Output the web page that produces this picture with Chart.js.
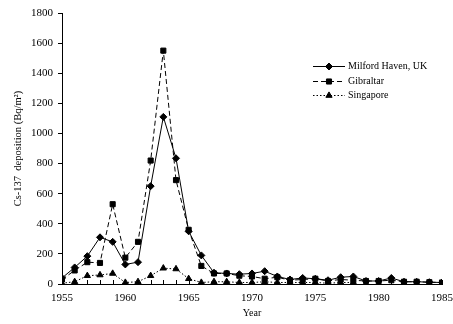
<!DOCTYPE html>
<html>
<head>
<meta charset="utf-8">
<script src="https://cdn.jsdelivr.net/npm/chart.js@4/dist/chart.umd.min.js"></script>
<style>
  html, body { margin: 0; padding: 0; background: #fff; }
  #wrap { width: 453px; height: 324px; position: relative; }
</style>
</head>
<body>
<div id="wrap"><canvas id="c"></canvas></div>
<script>
// Annual Cs-137 deposition, Bq/m²
const years = [1955,1956,1957,1958,1959,1960,1961,1962,1963,1964,1965,1966,1967,1968,1969,1970,
               1971,1972,1973,1974,1975,1976,1977,1978,1979,1980,1981,1982,1983,1984,1985];
const milfordHaven = [40,110,185,310,280,130,145,650,1110,835,350,190,75,70,65,70,
                      85,50,30,40,35,25,45,50,20,20,40,15,15,12,10];
const gibraltar = [30,90,145,140,530,175,280,820,1550,690,360,120,70,70,55,50,
                   35,45,25,30,35,20,30,25,20,20,25,15,15,12,10];
const singapore = [5,15,55,60,70,10,15,55,105,100,35,10,15,15,10,10,
                   15,10,10,10,10,5,10,10];
const yTicks = [0,200,400,600,800,1000,1200,1400,1600,1800];
const xLabelYears = [1955,1960,1965,1970,1975,1980,1985];

const FONT = '"Liberation Serif", "DejaVu Serif", serif';

function pts(vals) { return vals.map((v, i) => ({ x: years[i], y: v })); }

const seriesStyle = [
  { label: 'Milford Haven, UK', data: milfordHaven, dash: [], point: 'rectRot', r: 3.5 },
  { label: 'Gibraltar', data: gibraltar, dash: [5, 3], point: 'rect', r: 3.6 },
  { label: 'Singapore', data: singapore, dash: [1.5, 2], point: 'triangle', r: 3.6 }
];

// Inward tick marks on the year axis, one per year
const yearTicks = {
  id: 'yearTicks',
  afterDraw(chart) {
    const x = chart.scales.x, ctx = chart.ctx;
    const yb = chart.chartArea.bottom;
    ctx.save();
    ctx.strokeStyle = '#000';
    ctx.lineWidth = 1;
    for (let yr = 1955; yr <= 1985; yr++) {
      const px = Math.round(x.getPixelForValue(yr)) + 0.5;
      ctx.beginPath();
      ctx.moveTo(px, yb);
      ctx.lineTo(px, yb - 4);
      ctx.stroke();
    }
    ctx.restore();
  }
};

// Legend with line sample and marker, placed inside the plot
const insideLegend = {
  id: 'insideLegend',
  afterDraw(chart) {
    const ctx = chart.ctx;
    const x0 = 313, x1 = 345, tx = 348;
    const rows = [66, 81, 95];
    ctx.save();
    chart.data.datasets.forEach((ds, i) => {
      const y = rows[i] + 0.5;
      ctx.strokeStyle = '#000';
      ctx.lineWidth = 1;
      ctx.setLineDash(ds.borderDash || []);
      ctx.beginPath();
      ctx.moveTo(x0, y);
      ctx.lineTo(x1, y);
      ctx.stroke();
      ctx.setLineDash([]);
      Chart.helpers.drawPoint(ctx, {
        pointStyle: ds.pointStyle, radius: ds.pointRadius, rotation: 0, borderWidth: 1
      }, (x0 + x1) / 2, y);
      ctx.fillStyle = '#000';
      ctx.font = '10px ' + FONT;
      ctx.textBaseline = 'middle';
      ctx.textAlign = 'left';
      ctx.fillText(ds.label, tx, y);
    });
    ctx.restore();
  }
};

new Chart(document.getElementById('c'), {
  type: 'line',
  data: {
    datasets: seriesStyle.map(s => ({
      label: s.label,
      data: pts(s.data),
      borderColor: '#000',
      backgroundColor: '#000',
      borderWidth: 1,
      borderDash: s.dash,
      pointStyle: s.point,
      pointRadius: s.r,
      pointBorderWidth: 1,
      pointBackgroundColor: '#000',
      pointBorderColor: '#000',
      tension: 0,
      fill: false
    }))
  },
  options: {
    responsive: true,
    maintainAspectRatio: false,
    animation: false,
    layout: { padding: { left: 0, right: 11, top: 13, bottom: 0 } },
    plugins: { legend: { display: false }, tooltip: { enabled: false } },
    scales: {
      x: {
        type: 'linear',
        min: 1955, max: 1985,
        afterBuildTicks(scale) { scale.ticks = xLabelYears.map(v => ({ value: v })); },
        afterFit(scale) { scale.height = 40; scale.paddingLeft = 0; scale.paddingRight = 0; },
        ticks: {
          autoSkip: false, maxRotation: 0, padding: 8, color: '#000',
          font: { family: FONT, size: 11 },
          callback: v => String(v)
        },
        grid: { display: true, drawOnChartArea: false, drawTicks: false, color: '#000' },
        border: { display: true, color: '#000', width: 1 },
        title: { display: true, text: 'Year', color: '#000', font: { family: FONT, size: 10 }, padding: { top: 0, bottom: 5 } }
      },
      y: {
        min: 0, max: 1800,
        afterBuildTicks(scale) { scale.ticks = yTicks.map(v => ({ value: v })); },
        afterFit(scale) { scale.width = 62; scale.paddingTop = 0; scale.paddingBottom = 0; },
        ticks: { color: '#000', padding: 5, font: { family: FONT, size: 11 }, callback: v => String(v) },
        grid: { display: true, drawOnChartArea: false, drawTicks: true, tickLength: 4, color: '#000' },
        border: { display: true, color: '#000', width: 1 },
        title: { display: true, text: 'Cs-137  deposition (Bq/m²)', color: '#000', font: { family: FONT, size: 10.5 }, padding: { top: 12, bottom: 0 } }
      }
    }
  },
  plugins: [yearTicks, insideLegend]
});
</script>
</body>
</html>
